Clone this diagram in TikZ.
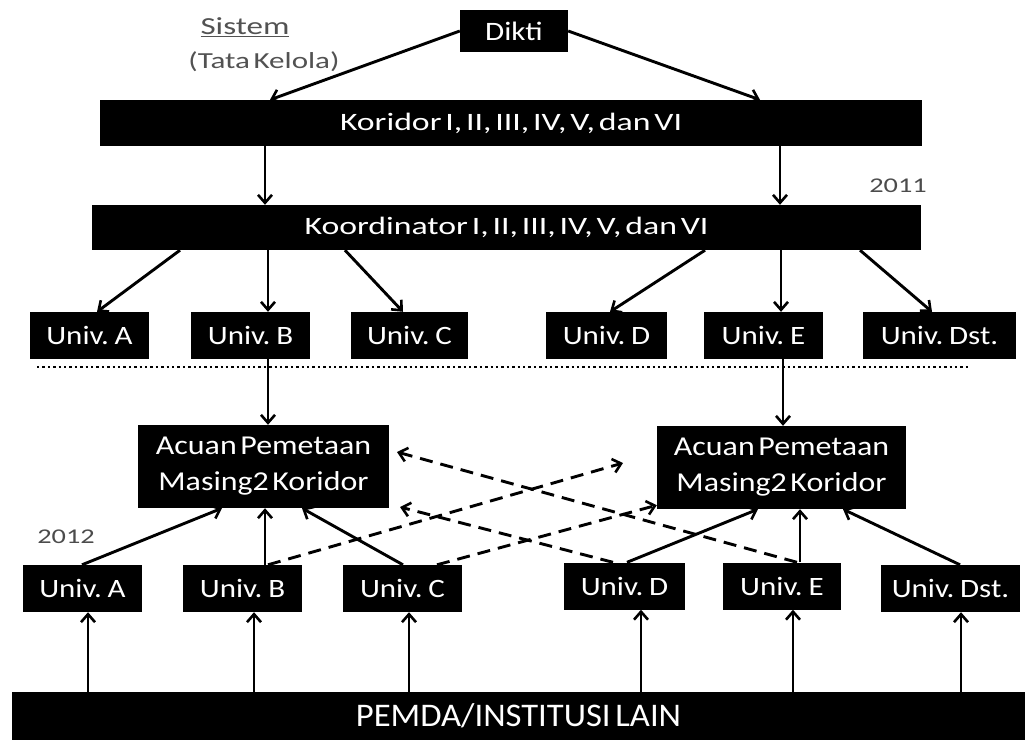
\documentclass[tikz,border=0pt]{standalone}
\usepackage{fontspec}
\setmainfont{Carlito}
\newfontfamily\fwide{Carlito}[FakeStretch=1.35,WordSpace=0.5]
\newfontfamily\fmid{Carlito}[FakeStretch=1.17,WordSpace=0.5]
\newfontfamily\fnorm{Carlito}[FakeStretch=1.05,WordSpace=0.6]
\usetikzlibrary{arrows.meta}
\begin{document}
\begin{tikzpicture}[x=1pt,y=-1pt,
  box/.style={fill=black,text=white,inner sep=0pt,align=center},
  arr/.style={draw=black,line width=2.9pt,-{Straight Barb[length=8pt,width=14pt,line width=2.6pt]}},
  darr/.style={arr,dash pattern=on 13pt off 8pt},
  univ/.style={box,minimum height=47pt,font=\fmid\fontsize{26.5}{30}\selectfont},
  bar/.style={box,minimum height=46pt,font=\fwide\fontsize{25}{30}\selectfont},
  acuan/.style={box,minimum height=83pt,font=\fmid\fontsize{27.3}{36}\selectfont},
  yr/.style={text=black!70,font=\fwide\fontsize{21}{22}\selectfont},
  lbl/.style={text=black!68}]
\useasboundingbox (0,0) rectangle (1030,740);
% top
\node[box,minimum width=108pt,minimum height=42pt,font=\fmid\fontsize{26.6}{30}\selectfont] (dikti) at (514,31) {Dikti};
\node[lbl,font=\fwide\fontsize{24.5}{28}\selectfont] (sis) at (245,27) {\underline{Sistem}};
\node[lbl,font=\fwide\fontsize{23}{28}\selectfont] (tk) at (264,62) {(Tata Kelola)};
\node[bar,minimum width=822pt] (kor) at (511,123) {Koridor I, II, III, IV, V, dan VI};
\node[bar,minimum width=829pt,minimum height=45pt] (koord) at (506.5,227.5) {Koordinator I, II, III, IV, V, dan VI};
\node[yr] (y11) at (898,186) {2011};
% row 1
\node[univ,minimum width=119pt] (ua1) at (89.5,335.5) {Univ. A};
\node[univ,minimum width=119pt] (ub1) at (250.5,335.5) {Univ. B};
\node[univ,minimum width=117pt] (uc1) at (409.5,335.5) {Univ. C};
\node[univ,minimum width=121pt] (ud1) at (606.5,335.5) {Univ. D};
\node[univ,minimum width=119pt] (ue1) at (763.5,335.5) {Univ. E};
\node[univ,minimum width=153pt] (uf1) at (939.5,335.5) {Univ. Dst.};
% dotted separator
\coordinate (dotL) at (37,367);
\coordinate (dotR) at (968,367);
\draw[line width=2.6pt,dash pattern=on 2.4pt off 3pt] (dotL) -- (dotR);
% acuan
\node[acuan,minimum width=251pt] (al) at (263.5,466.5) {Acuan Pemetaan\\Masing2 Koridor};
\node[acuan,minimum width=249pt] (ar) at (781.5,467.5) {Acuan Pemetaan\\Masing2 Koridor};
\node[yr] (y12) at (66,537) {2012};
% row 2
\node[univ,minimum width=119pt] (ua2) at (82.5,588.5) {Univ. A};
\node[univ,minimum width=119pt] (ub2) at (242.5,588.5) {Univ. B};
\node[univ,minimum width=119pt] (uc2) at (402.5,588.5) {Univ. C};
\node[univ,minimum width=121pt] (ud2) at (624.5,586) {Univ. D};
\node[univ,minimum width=118pt] (ue2) at (782,586) {Univ. E};
\node[univ,minimum width=139pt] (uf2) at (950.5,588.5) {Univ. Dst.};
% bottom
\node[box,minimum width=1013pt,minimum height=48pt,font=\fnorm\fontsize{33}{36}\selectfont] (pem) at (518.5,716) {PEMDA/INSTITUSI LAIN};
% arrows top
\draw[arr] (dikti.west) -- (kor.north -| 270,0);
\draw[arr] (dikti.east) -- (kor.north -| 760,0);
\draw[arr] (kor.south -| 265,0) -- (koord.north -| 265,0);
\draw[arr] (kor.south -| 780,0) -- (koord.north -| 780,0);
\draw[arr] (koord.south -| 180,0) -- (ua1.north -| 97,0);
\draw[arr] (koord.south -| 268,0) -- (ub1.north -| 268,0);
\draw[arr] (koord.south -| 345,0) -- (uc1.north -| 403,0);
\draw[arr] (koord.south -| 705,0) -- (ud1.north -| 610,0);
\draw[arr] (koord.south -| 781,0) -- (ue1.north -| 781,0);
\draw[arr] (koord.south -| 860,0) -- (uf1.north -| 932,0);
\draw[arr] (ub1.south -| 268,0) -- (al.north -| 268,0);
\draw[arr] (ue1.south -| 783,0) -- (ar.north -| 783,0);
% row 2 to acuan
\draw[arr] (ua2.north -| 82,0) -- (al.south -| 222,0);
\draw[arr] (ub2.north -| 265,0) -- (al.south -| 265,0);
\draw[arr] (uc2.north -| 403,0) -- (al.south -| 302,0);
\draw[arr] (ud2.north -| 627,0) -- (ar.south -| 758,0);
\draw[arr] (ue2.north -| 800,0) -- (ar.south -| 800,0);
\draw[arr] (uf2.north -| 960,0) -- (ar.south -| 843,0);
% dashed cross arrows
\coordinate (d1e) at (623,463);
\coordinate (d3e) at (400,507);
\coordinate (d4e) at (397,452);
\draw[darr] (ub2.north -| 268,0) -- (d1e);
\draw[darr] (uc2.north -| 437,0) -- ([yshift=4pt]ar.south west);
\draw[darr] (ud2.north -| 613,0) -- (d3e);
\draw[darr] (ue2.north -| 797,0) -- (d4e);
% pemda arrows
\foreach \n/\x in {ua2/88,ub2/254,uc2/409,ud2/641,ue2/793,uf2/961}
  \draw[arr] (pem.north -| \x,0) -- (\n.south -| \x,0);
\end{tikzpicture}
\end{document}
